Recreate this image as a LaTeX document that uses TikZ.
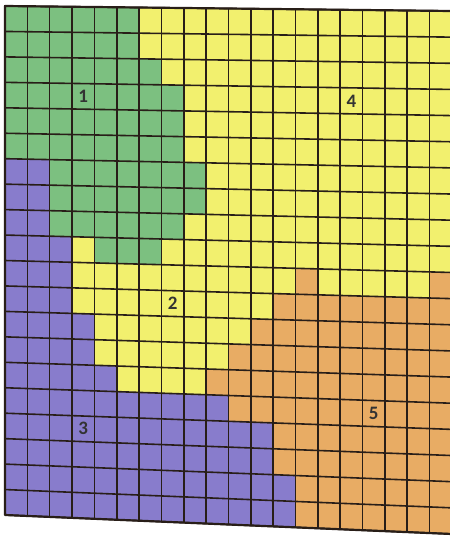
\documentclass[tikz,border=0pt]{standalone}
\usepackage{fontspec}
\setmainfont{Carlito}
\usetikzlibrary{calc}
\definecolor{cG}{RGB}{124,192,128}
\definecolor{cY}{RGB}{242,240,110}
\definecolor{cP}{RGB}{136,124,204}
\definecolor{cO}{RGB}{232,172,100}
\definecolor{lineC}{RGB}{40,30,24}
\begin{document}
\begin{tikzpicture}[x=1pt,y=-1pt,
  gridline/.style={draw=lineC, line width=1.6pt},
  border/.style={draw=lineC, line width=2.2pt, line join=round},
  lbl/.style={font=\fontsize{19}{21}\bfseries\selectfont, text=black!80, inner sep=0pt}]
\useasboundingbox (0,0) rectangle (450,550);
\fill[white] (0,0) rectangle (450,550);
\coordinate (A) at (5,6);
\coordinate (B) at (452,11);
\coordinate (C) at (452,534);
\coordinate (D) at (5,515);
\foreach \i in {0,...,20}{
  \coordinate (T\i) at ($(A)!\i/20!(B)$);
  \coordinate (U\i) at ($(D)!\i/20!(C)$);
}
\foreach \i in {0,...,20}{
  \foreach \j in {0,...,20}{
    \coordinate (p\i-\j) at ($(T\i)!\j/20!(U\i)$);
  }
}
\foreach \r/\a/\b/\c in {
  0/0/6/cG, 0/6/20/cY,
  1/0/6/cG, 1/6/20/cY,
  2/0/7/cG, 2/7/20/cY,
  3/0/8/cG, 3/8/20/cY,
  4/0/8/cG, 4/8/20/cY,
  5/0/8/cG, 5/8/20/cY,
  6/0/2/cP, 6/2/9/cG, 6/9/20/cY,
  7/0/2/cP, 7/2/9/cG, 7/9/20/cY,
  8/0/2/cP, 8/2/8/cG, 8/8/20/cY,
  9/0/3/cP, 9/3/4/cY, 9/4/7/cG, 9/7/20/cY,
  10/0/3/cP, 10/3/13/cY, 10/13/14/cO, 10/14/19/cY, 10/19/20/cO,
  11/0/3/cP, 11/3/12/cY, 11/12/20/cO,
  12/0/4/cP, 12/4/11/cY, 12/11/20/cO,
  13/0/4/cP, 13/4/10/cY, 13/10/20/cO,
  14/0/5/cP, 14/5/9/cY, 14/9/20/cO,
  15/0/10/cP, 15/10/20/cO,
  16/0/12/cP, 16/12/20/cO,
  17/0/12/cP, 17/12/20/cO,
  18/0/13/cP, 18/13/20/cO,
  19/0/13/cP, 19/13/20/cO}{
  \pgfmathtruncatemacro\rr{\r+1}
  \fill[\c] (p\a-\r) -- (p\b-\r) -- (p\b-\rr) -- (p\a-\rr) -- cycle;
}
\foreach \i in {0,...,20}{
  \draw[gridline] (p\i-0) -- (p\i-20);
  \draw[gridline] (p0-\i) -- (p20-\i);
}
\draw[border] (p0-0) -- (p20-0) -- (p20-20) -- (p0-20) -- cycle;
\node[lbl] (l1) at ($(p3-3)!0.5!(p4-4)$) {1};
\node[lbl] (l2) at ($(p7-11)!0.5!(p8-12)$) {2};
\node[lbl] (l3) at ($(p3-16)!0.5!(p4-17)$) {3};
\node[lbl] (l4) at ($(p15-3)!0.5!(p16-4)$) {4};
\node[lbl] (l5) at ($(p16-15)!0.5!(p17-16)$) {5};
\end{tikzpicture}
\end{document}
